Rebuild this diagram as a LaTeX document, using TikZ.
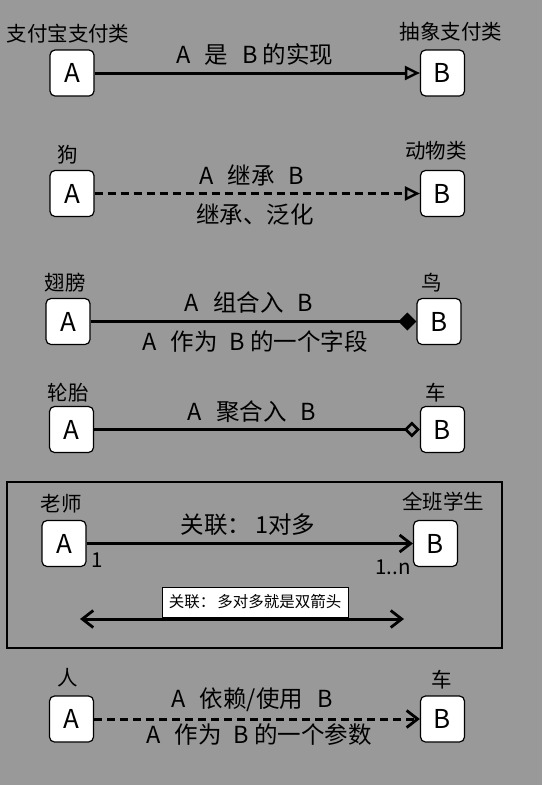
\documentclass[tikz,border=0pt]{standalone}
\usepackage{fontspec}
\setmainfont{Noto Sans CJK SC}
\usetikzlibrary{arrows.meta}
\begin{document}
\begin{tikzpicture}[x=1pt,y=1pt,yscale=-1,xscale=1,
  cls/.style={draw,fill=white,rounded corners=5pt,line width=1.2pt,minimum width=44pt,minimum height=46pt,inner sep=0pt,font=\fontsize{26}{26}\selectfont},
  lbl/.style={inner sep=0pt,font=\fontsize{20.5}{20.5}\selectfont},
  rel/.style={inner sep=0pt,font=\fontsize{23.5}{23.5}\selectfont},
  link/.style={line width=3pt},
  dlink/.style={line width=3pt,dash pattern={on 8pt off 5pt}}]
\fill [fill={rgb, 255:red, 153; green, 153; blue, 153 }] (0,0) rectangle (542,785) ;
\node [cls] (a1) at (72,73) {A};
\node [cls] (b1) at (442.5,73) {B};
\node [lbl] (na1) at (68,34) {支付宝支付类};
\node [lbl] (nb1) at (451,32) {抽象支付类};
\node [rel] (t1) at (255,55) {A\hspace{14pt}是\hspace{14pt}B 的实现};
\draw [link,-{Triangle[open,length=15pt,width=14pt,line width=2.4pt]}] (a1) -- (b1) ;
\node [cls] (a2) at (72,193.5) {A};
\node [cls] (b2) at (442.5,193.5) {B};
\node [lbl] (na2) at (68,155) {狗};
\node [lbl] (nb2) at (436,151) {动物类};
\node [rel] (t2) at (252,175) {A\hspace{14pt}继承\hspace{14pt}B};
\node [rel] (s2) at (255,215) {继承、泛化};
\draw [dlink,-{Triangle[open,length=15pt,width=14pt,line width=2.4pt]}] (a2) -- (b2) ;
\node [cls] (a3) at (68,321.5) {A};
\node [cls] (b3) at (439,321.5) {B};
\node [lbl] (na3) at (65,283) {翅膀};
\node [lbl] (nb3) at (432,283) {鸟};
\node [rel] (t3) at (249,303) {A\hspace{14pt}组合入\hspace{14pt}B};
\node [rel] (s3) at (255,342) {A\hspace{14pt}作为\hspace{12pt}B 的一个字段};
\draw [link,-{Diamond[length=18pt,width=18pt]}] (a3) -- (b3) ;
\node [cls] (a4) at (71.5,429.5) {A};
\node [cls] (b4) at (442.5,429.5) {B};
\node [lbl] (na4) at (68,393) {轮胎};
\node [lbl] (nb4) at (436,393) {车};
\node [rel] (t4) at (252,412) {A\hspace{14pt}聚合入\hspace{14pt}B};
\draw [link,-{Diamond[open,length=16pt,width=16pt,line width=2.6pt]}] (a4) -- (b4) ;
\draw [line width=1.5pt] (7,482) rectangle (502,648) ;
\node [cls] (a5) at (64,543.5) {A};
\node [cls] (b5) at (435.5,543.5) {B};
\node [lbl] (na5) at (61,504) {老师};
\node [lbl] (nb5) at (443,502) {全班学生};
\node [rel] (t5) at (248,525) {关联：\hspace{4pt}1对多};
\node [lbl] (m1) at (97,560) {1};
\node [lbl] (mn) at (393,567) {1..n};
\draw [link,-{Straight Barb[length=11pt,width=17pt,line width=2.8pt]}] (a5) -- (b5) ;
\coordinate (l5) at (80,619) ;
\coordinate (r5) at (404,619) ;
\draw [link,{Straight Barb[length=11pt,width=17pt,line width=2.8pt]}-{Straight Barb[length=11pt,width=17pt,line width=2.8pt]}] (l5) -- (r5) ;
\node [draw,fill=white,line width=0.8pt,minimum width=186pt,minimum height=30pt,inner sep=0pt,font=\fontsize{15.5}{15.5}\selectfont] (n5) at (255,602) {\raisebox{-4pt}{关联：\hspace{2pt}多对多就是双箭头}};
\node [cls] (a6) at (71.5,719) {A};
\node [cls] (b6) at (442.5,719) {B};
\node [lbl] (na6) at (68,678) {人};
\node [lbl] (nb6) at (442,680) {车};
\node [rel] (t6) at (252,700) {A\hspace{14pt}依赖/使用\hspace{14pt}B};
\node [rel] (s6) at (259,735) {A\hspace{14pt}作为\hspace{12pt}B 的一个参数};
\draw [dlink,-{Straight Barb[length=11pt,width=17pt,line width=2.8pt]}] (a6) -- (b6) ;
\end{tikzpicture}
\end{document}
